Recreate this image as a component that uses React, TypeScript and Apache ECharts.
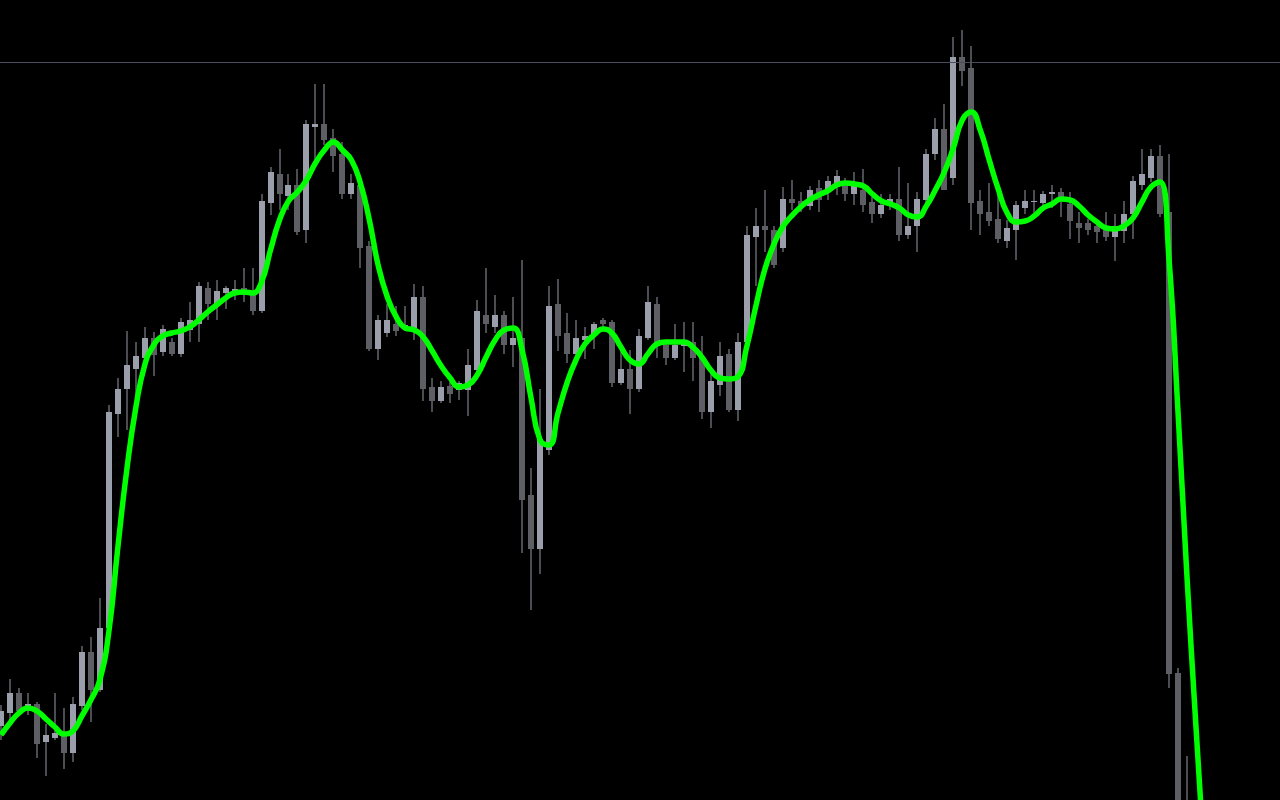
import React, { useEffect, useRef } from "react";
import * as echarts from "echarts";

// Candle values (price units), one entry per bar, left to right
const opens = [
  74, 87, 107, 90, 96, 58, 62, 67, 47, 94, 148, 110, 172, 386, 411, 431, 442, 462, 448, 458,
  446, 470, 476, 512, 494, 507, 507, 512, 506, 489, 597, 626, 604, 615, 570, 673, 676, 662, 646, 606,
  615, 554, 451, 467, 476, 471, 472, 503, 413, 399, 414, 410, 410, 430, 485, 473, 485, 455, 462, 305,
  251, 350, 496, 467, 446, 460, 464, 480, 478, 417, 431, 411, 462, 496, 455, 442, 454, 458, 442, 388,
  415, 446, 390, 458, 563, 574, 570, 552, 601, 599, 594, 612, 610, 616, 616, 606, 610, 598, 586, 595,
  601, 565, 574, 600, 646, 671, 622, 743, 732, 599, 588, 581, 559, 570, 592, 598, 597, 606, 608, 596,
  577, 577, 574, 570, 563, 569, 586, 615, 622, 644, 588, 127, -70,
];
const closes = [
  89, 107, 89, 96, 56, 65, 67, 47, 96, 148, 110, 172, 388, 411, 435, 444, 462, 445, 471, 446,
  478, 480, 514, 496, 509, 512, 511, 505, 489, 599, 628, 606, 615, 568, 676, 676, 660, 644, 606, 617,
  552, 451, 480, 480, 469, 475, 503, 411, 399, 413, 406, 417, 435, 489, 476, 485, 455, 462, 300, 251,
  361, 494, 464, 446, 462, 464, 476, 476, 417, 431, 411, 464, 498, 455, 442, 455, 458, 442, 388, 419,
  444, 390, 458, 565, 574, 570, 535, 601, 597, 594, 610, 600, 619, 624, 606, 614, 595, 586, 595, 601,
  565, 574, 601, 646, 671, 610, 743, 729, 597, 586, 579, 561, 572, 595, 599, 599, 606, 608, 600, 579,
  572, 570, 568, 563, 574, 586, 619, 626, 644, 586, 126, -80, -150,
];
const highs = [
  95, 121, 112, 107, 98, 76, 107, 92, 103, 154, 163, 202, 395, 422, 469, 458, 473, 468, 475, 462,
  482, 498, 518, 518, 520, 514, 520, 532, 532, 606, 633, 651, 626, 631, 680, 716, 716, 671, 658, 626,
  622, 559, 485, 496, 494, 494, 516, 514, 422, 419, 422, 419, 451, 500, 532, 505, 489, 503, 540, 332,
  411, 514, 521, 487, 480, 473, 478, 482, 480, 449, 450, 471, 514, 503, 458, 476, 478, 478, 464, 428,
  458, 451, 467, 574, 592, 610, 574, 613, 620, 608, 614, 620, 624, 630, 622, 628, 631, 603, 606, 606,
  633, 617, 608, 651, 682, 696, 763, 770, 754, 610, 617, 607, 580, 599, 610, 610, 609, 615, 612, 608,
  588, 581, 578, 588, 586, 599, 624, 651, 651, 655, 646, 132, 44,
];
const lows = [
  60, 80, 84, 85, 42, 24, 60, 31, 38, 90, 78, 108, 168, 363, 370, 402, 435, 424, 444, 444,
  443, 458, 458, 480, 480, 491, 500, 498, 485, 487, 585, 590, 590, 565, 557, 640, 655, 628, 601, 601,
  532, 449, 440, 463, 464, 469, 460, 399, 388, 397, 397, 400, 384, 425, 467, 467, 446, 433, 247, 190,
  226, 345, 449, 437, 440, 441, 451, 473, 413, 415, 386, 408, 460, 442, 435, 440, 428, 419, 381, 372,
  404, 388, 379, 455, 514, 548, 532, 548, 590, 588, 590, 588, 600, 605, 599, 595, 588, 577, 582, 590,
  559, 561, 548, 595, 640, 610, 615, 714, 570, 565, 574, 557, 552, 540, 586, 587, 590, 592, 583, 561,
  557, 565, 557, 559, 539, 557, 561, 610, 618, 583, 112, -100, -180,
];

// Smoothed moving-average line, one value per bar (runs a little past the last bar)
const maValues = [
  65, 77, 87, 92, 89, 81, 73, 66, 69, 84, 100, 120, 168, 252, 330, 392, 435, 455, 464, 467,
  469, 473, 480, 488, 495, 502, 507, 508, 507, 518, 550, 580, 599, 608, 620, 637, 650, 658, 650, 640,
  617, 580, 534, 503, 483, 472, 470, 463, 449, 434, 422, 413, 415, 425, 443, 460, 470, 472, 450, 402,
  360, 355, 387, 417, 440, 456, 465, 471, 467, 453, 440, 436, 446, 456, 458, 458, 458, 453, 443, 430,
  422, 421, 423, 453, 493, 530, 555, 573, 584, 593, 600, 605, 609, 615, 617, 616, 614, 606, 599, 596,
  592, 585, 583, 594, 610, 628, 652, 680, 688, 670, 640, 611, 587, 578, 579, 584, 592, 596, 601, 600,
  594, 585, 578, 572, 571, 574, 582, 598, 613, 618, 542, 390, 225, 75, -70,
];

// Horizontal reference level near the top
const levelLine = 737.5;

const LIGHT = "#9b9fab";
const DARK = "#5d5f64";
const WICK = "#4c4d52";

export default function App() {
  const ref = useRef<HTMLDivElement>(null);

  useEffect(() => {
    document.body.style.margin = "0";
    document.body.style.background = "#000";
    const chart = echarts.init(ref.current!, null, { renderer: "svg" });

    const candleData = opens.map((o, i) => [i, o, closes[i], lows[i], highs[i]]);
    const maData = maValues.map((v, i) => [i, v]);

    const xMin = -1 / 8.984;
    const xMax = 1279 / 8.984;

    chart.setOption({
      animation: false,
      backgroundColor: "#000000",
      grid: { left: 0, right: 0, top: 0, bottom: 0, containLabel: false },
      xAxis: {
        type: "value",
        min: xMin,
        max: xMax,
        show: false,
        splitLine: { show: false },
      },
      yAxis: {
        type: "value",
        min: 0,
        max: 800,
        show: false,
        splitLine: { show: false },
      },
      series: [
        {
          type: "custom",
          name: "candles",
          clip: true,
          z: 2,
          encode: { x: 0, y: [1, 2, 3, 4] },
          data: candleData,
          renderItem: (params: any, api: any) => {
            const i = api.value(0);
            const o = api.value(1);
            const c = api.value(2);
            const l = api.value(3);
            const h = api.value(4);
            const pO = api.coord([i, o]);
            const pC = api.coord([i, c]);
            const pL = api.coord([i, l]);
            const pH = api.coord([i, h]);
            const cx = Math.round(pO[0]);
            const top = Math.round(Math.min(pO[1], pC[1]));
            const bot = Math.round(Math.max(pO[1], pC[1]));
            const bull = c >= o;
            return {
              type: "group",
              children: [
                {
                  type: "rect",
                  shape: { x: cx - 1, y: Math.round(pH[1]), width: 2, height: Math.round(pL[1]) - Math.round(pH[1]) },
                  style: { fill: WICK },
                },
                {
                  type: "rect",
                  shape: { x: cx - 3, y: top, width: 6, height: Math.max(1, bot - top) },
                  style: { fill: bull ? LIGHT : DARK },
                },
              ],
            };
          },
        },
        {
          type: "line",
          name: "ma",
          data: maData,
          smooth: 0.5,
          symbol: "none",
          showSymbol: false,
          clip: true,
          z: 3,
          lineStyle: { color: "#00ff00", width: 5.5 },
          markLine: {
            silent: true,
            symbol: ["none", "none"],
            label: { show: false },
            lineStyle: { color: "#4b4d5d", width: 1, type: "solid" },
            data: [{ yAxis: levelLine }],
          },
        },
      ],
    });

    return () => chart.dispose();
  }, []);

  return (
    <div
      ref={ref}
      style={{ position: "fixed", left: 0, top: 0, width: 1280, height: 800, background: "#000" }}
    />
  );
}
